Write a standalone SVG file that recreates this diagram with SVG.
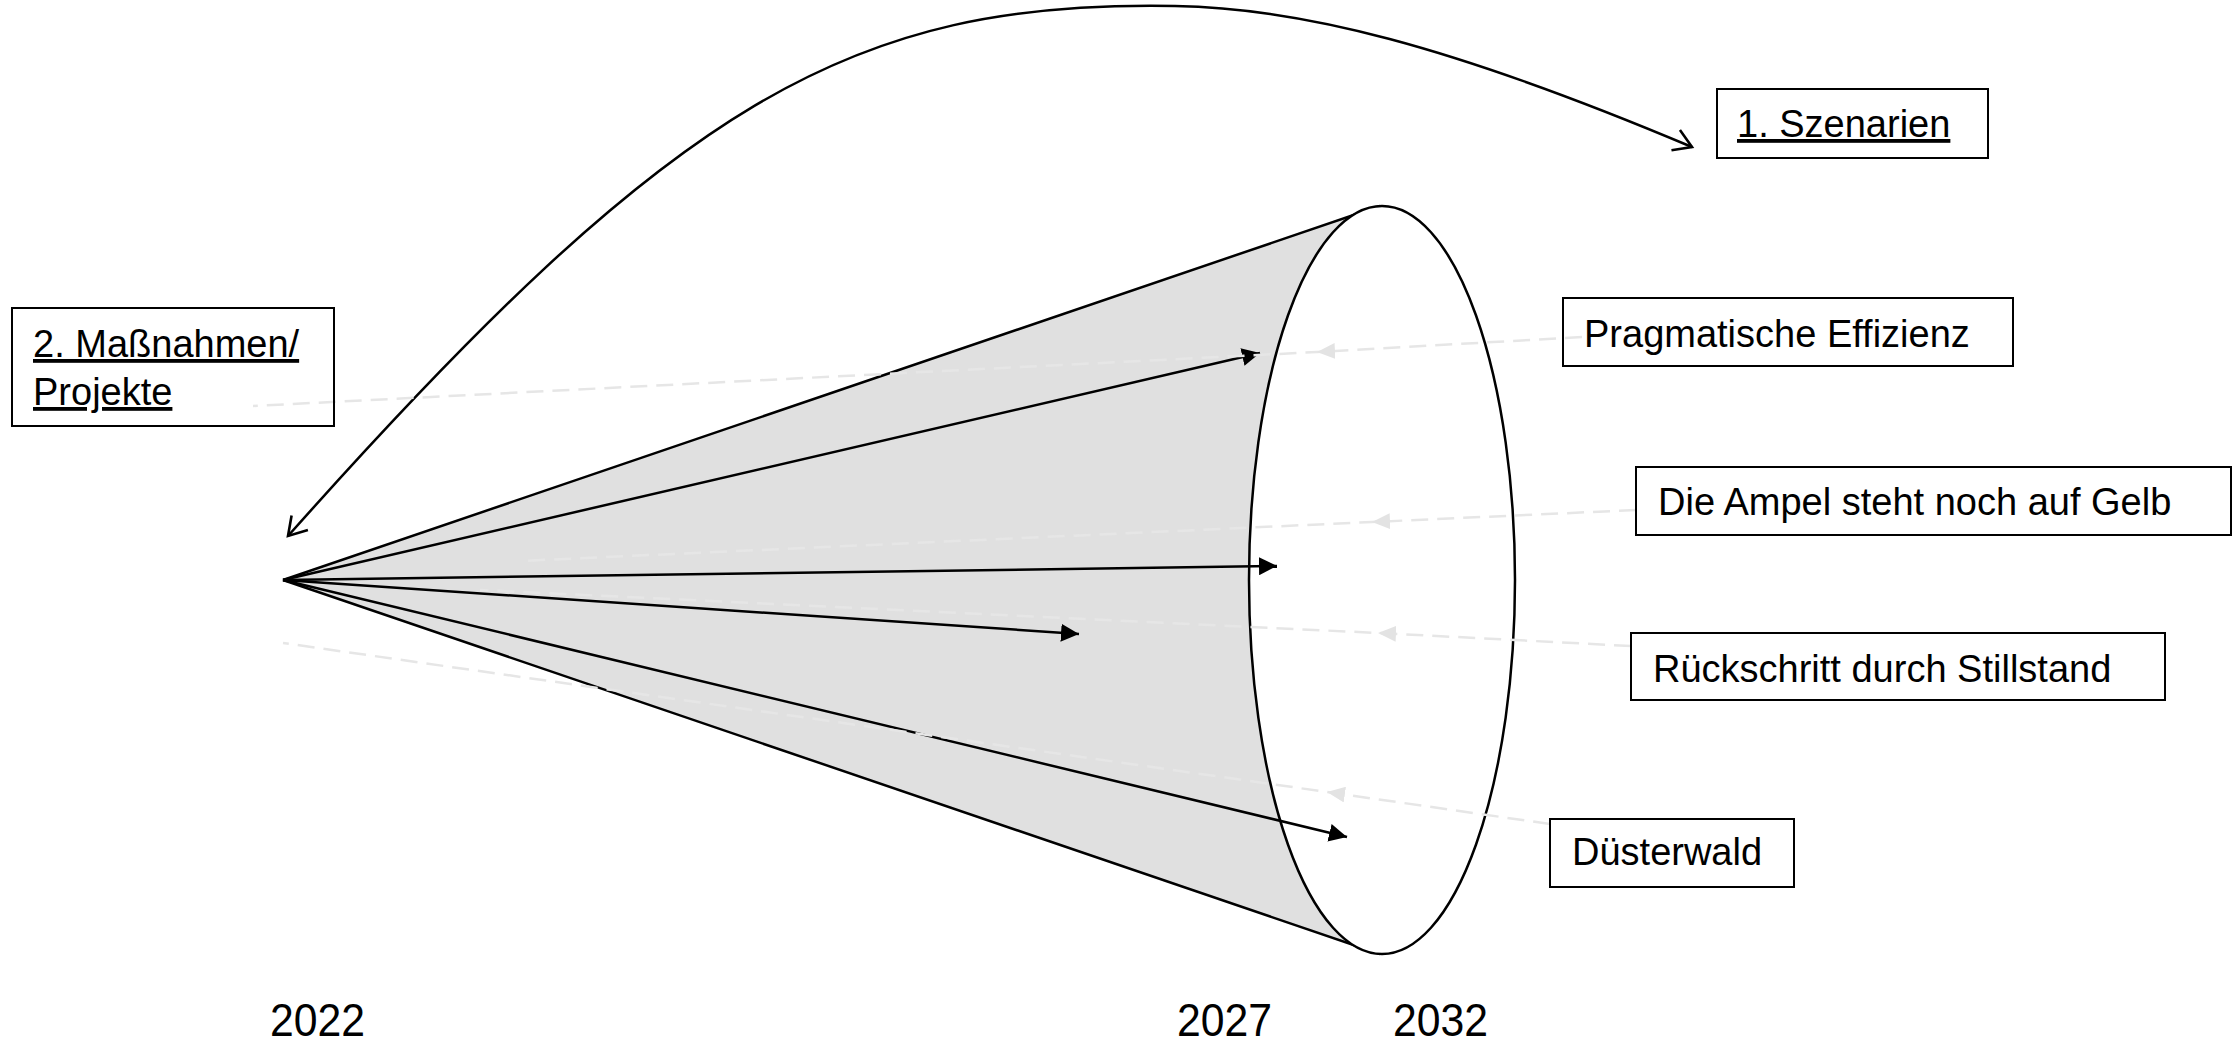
<svg xmlns="http://www.w3.org/2000/svg" width="2235" height="1047" viewBox="0 0 2235 1047">
  <style>
    .box { fill: none; stroke: #000; stroke-width: 2; }
    .lbl { font-family: "Liberation Sans", Arial, sans-serif; font-size: 38px; fill: #000; }
    .ul { text-decoration: underline; }
    .year { font-family: "Liberation Sans", Arial, sans-serif; font-size: 46px; fill: #000; }
    .edge { fill: none; stroke: #000; stroke-width: 2.5; }
    .dash { fill: none; stroke: #e6e6e6; stroke-width: 2.5; stroke-dasharray: 17 9; }
  </style>
  <defs>
    <marker id="arrBlack" markerUnits="userSpaceOnUse" markerWidth="18" markerHeight="18" viewBox="0 0 16 16" refX="16" refY="8" orient="auto">
      <path d="M0,0 L16,8 L0,16 z" fill="#000"/>
    </marker>
    <marker id="arrGray" markerUnits="userSpaceOnUse" markerWidth="18" markerHeight="16" viewBox="0 0 17 15" refX="17" refY="7.5" orient="auto">
      <path d="M17,7.5 L0,0 L0,15 z" fill="#e3e3e3"/>
    </marker>
    <marker id="arrOpen" markerUnits="userSpaceOnUse" markerWidth="24" markerHeight="26" viewBox="-2 -2 22 25" refX="17" refY="10.5" orient="auto-start-reverse" overflow="visible">
      <path d="M0,0 L17,10.5 L0,21" fill="none" stroke="#000" stroke-width="2.5"/>
    </marker>
  </defs>

  <rect width="2235" height="1047" fill="#fff"/>

  <g id="cone">
    <polygon points="283,580 1380,206 1380,954" fill="#e0e0e0" stroke="none"/>
    <line class="edge" x1="283" y1="580" x2="1380" y2="206"/>
    <line class="edge" x1="283" y1="580" x2="1380" y2="954"/>
    <ellipse cx="1382" cy="580" rx="133" ry="374" fill="#fff" stroke="#000" stroke-width="2.5"/>
  </g>

  <g id="connectors">
    <path class="edge" d="M288,536 C675,101 850,0 1175,6 C1300,8 1450,45 1692,147" marker-start="url(#arrOpen)" marker-end="url(#arrOpen)"/>
    <line class="edge" x1="283" y1="580" x2="1260" y2="353" marker-end="url(#arrBlack)"/>
    <line class="edge" x1="283" y1="580" x2="1277" y2="566" marker-end="url(#arrBlack)"/>
    <line class="edge" x1="283" y1="580" x2="1079" y2="634" marker-end="url(#arrBlack)"/>
    <line class="edge" x1="283" y1="580" x2="1347" y2="837" marker-end="url(#arrBlack)"/>
    <path class="dash" d="M1582,337 L1317,352 L253,406" marker-mid="url(#arrGray)"/>
    <path class="dash" d="M1636,510 L1372,522 L520,561" marker-mid="url(#arrGray)"/>
    <path class="dash" d="M1631,646 L1378,633 L480,590" marker-mid="url(#arrGray)"/>
    <path class="dash" d="M1550,824 L1327,792 L283,643" marker-mid="url(#arrGray)"/>
  </g>

  <g id="node-szenarien">
    <rect class="box" x="1717" y="89" width="271" height="69"/>
    <text class="lbl ul" x="1737" y="137">1. Szenarien</text>
  </g>
  <g id="node-massnahmen">
    <rect class="box" x="12" y="308" width="322" height="118"/>
    <text class="lbl ul" x="33" y="357">2. Maßnahmen/</text>
    <text class="lbl ul" x="33" y="405">Projekte</text>
  </g>
  <g id="node-pragmatische">
    <rect class="box" x="1563" y="298" width="450" height="68"/>
    <text class="lbl" x="1584" y="347">Pragmatische Effizienz</text>
  </g>
  <g id="node-ampel">
    <rect class="box" x="1636" y="467" width="595" height="68"/>
    <text class="lbl" x="1658" y="515">Die Ampel steht noch auf Gelb</text>
  </g>
  <g id="node-rueckschritt">
    <rect class="box" x="1631" y="633" width="534" height="67"/>
    <text class="lbl" x="1653" y="682">Rückschritt durch Stillstand</text>
  </g>
  <g id="node-duesterwald">
    <rect class="box" x="1550" y="819" width="244" height="68"/>
    <text class="lbl" x="1572" y="865">Düsterwald</text>
  </g>

  <g id="years">
    <text class="year" x="270" y="1036" textLength="95" lengthAdjust="spacingAndGlyphs">2022</text>
    <text class="year" x="1177" y="1036" textLength="95" lengthAdjust="spacingAndGlyphs">2027</text>
    <text class="year" x="1393" y="1036" textLength="95" lengthAdjust="spacingAndGlyphs">2032</text>
  </g>
</svg>
